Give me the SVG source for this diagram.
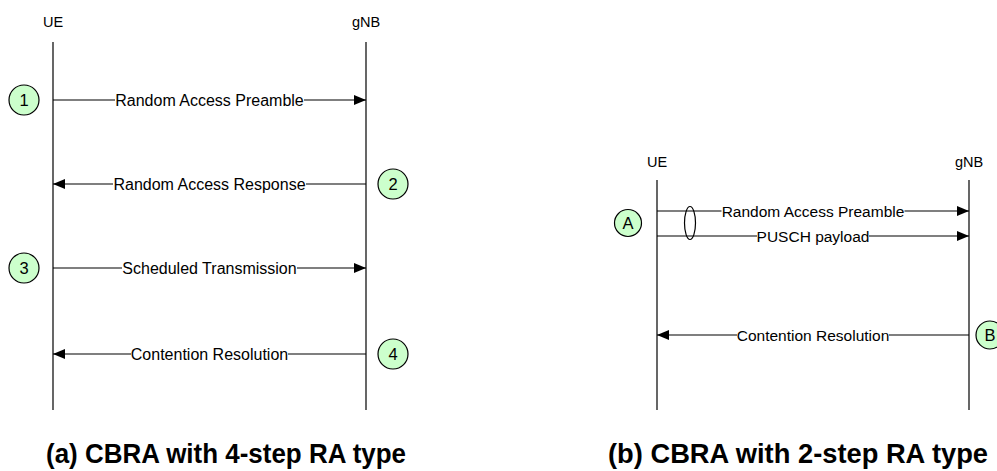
<svg xmlns="http://www.w3.org/2000/svg" width="997" height="471" viewBox="0 0 997 471">
<style>
  .life { stroke: #000; stroke-width: 1.2; fill: none; }
  .msg { stroke: #000; stroke-width: 1.2; fill: none; marker-end: url(#arr); }
  .hdr { font-family: "Liberation Sans", Arial, sans-serif; font-size: 14.5px; fill: #000; text-anchor: middle; }
  .lbl { font-family: "Liberation Sans", Arial, sans-serif; font-size: 16px; fill: #000; text-anchor: middle; }
  .lblr { font-family: "Liberation Sans", Arial, sans-serif; font-size: 15.5px; fill: #000; text-anchor: middle; }
  .step { fill: #ccffcc; stroke: #000; stroke-width: 1.2; }
  .stxt { font-family: "Liberation Sans", Arial, sans-serif; font-size: 16.5px; fill: #000; text-anchor: middle; }
  .cap { font-family: "Liberation Sans", Arial, sans-serif; font-size: 28px; font-weight: bold; fill: #000; }
  .bg { fill: #fff; }
</style>
<defs>
  <marker id="arr" markerUnits="userSpaceOnUse" markerWidth="12" markerHeight="10" refX="12" refY="5" orient="auto">
    <path d="M0,0 L12,5 L0,10 Z" fill="#000"/>
  </marker>
</defs>
<rect width="997" height="471" fill="#fff"/>

<g id="ue-a">
  <text class="hdr" x="53" y="27">UE</text>
  <line class="life" x1="53" y1="42" x2="53" y2="410"/>
</g>
<g id="gnb-a">
  <text class="hdr" x="366" y="27">gNB</text>
  <line class="life" x1="366" y1="42" x2="366" y2="410"/>
</g>
<g id="ue-b">
  <text class="hdr" x="657" y="167">UE</text>
  <line class="life" x1="657" y1="180" x2="657" y2="410"/>
</g>
<g id="gnb-b">
  <text class="hdr" x="969" y="167">gNB</text>
  <line class="life" x1="969" y1="180" x2="969" y2="410"/>
</g>

<g id="connectors">
  <line class="msg" x1="53" y1="100" x2="366" y2="100"/>
  <rect class="bg" x="115" y="97" width="189" height="6"/>
  <text class="lbl" x="209.5" y="105.5">Random Access Preamble</text>

  <line class="msg" x1="366" y1="184" x2="53" y2="184"/>
  <rect class="bg" x="113" y="181" width="193" height="6"/>
  <text class="lbl" x="209.5" y="189.5">Random Access Response</text>

  <line class="msg" x1="53" y1="268" x2="366" y2="268"/>
  <rect class="bg" x="122" y="265" width="175" height="6"/>
  <text class="lbl" x="209.5" y="273.5">Scheduled Transmission</text>

  <line class="msg" x1="366" y1="354" x2="53" y2="354"/>
  <rect class="bg" x="131" y="351" width="157" height="6"/>
  <text class="lbl" x="209.5" y="359.5">Contention Resolution</text>

  <line class="msg" x1="657" y1="211" x2="969" y2="211"/>
  <rect class="bg" x="721.5" y="208" width="183" height="6"/>
  <text class="lblr" x="813" y="216.5">Random Access Preamble</text>

  <line class="msg" x1="657" y1="236" x2="969" y2="236"/>
  <rect class="bg" x="757" y="233" width="112" height="6"/>
  <text class="lblr" x="813" y="241.5">PUSCH payload</text>

  <ellipse cx="690" cy="223" rx="5.5" ry="16.5" fill="none" stroke="#000" stroke-width="1.2"/>

  <line class="msg" x1="969" y1="335" x2="657" y2="335"/>
  <rect class="bg" x="737" y="332" width="152" height="6"/>
  <text class="lblr" x="813" y="340.5">Contention Resolution</text>
</g>

<g id="step1"><circle class="step" cx="24" cy="100" r="15"/><text class="stxt" x="24" y="106">1</text></g>
<g id="step2"><circle class="step" cx="393" cy="184" r="15"/><text class="stxt" x="393" y="190">2</text></g>
<g id="step3"><circle class="step" cx="24" cy="268" r="15"/><text class="stxt" x="24" y="274">3</text></g>
<g id="step4"><circle class="step" cx="393" cy="354" r="15"/><text class="stxt" x="393" y="360">4</text></g>
<g id="stepA"><circle class="step" cx="628" cy="223" r="13.5"/><text class="stxt" x="628" y="229">A</text></g>
<g id="stepB"><circle class="step" cx="990" cy="335" r="14"/><text class="stxt" x="990" y="341">B</text></g>

<g id="captions">
  <text class="cap" x="46" y="463" textLength="360" lengthAdjust="spacingAndGlyphs">(a) CBRA with 4-step RA type</text>
  <text class="cap" x="608" y="463" textLength="380" lengthAdjust="spacingAndGlyphs">(b) CBRA with 2-step RA type</text>
</g>
</svg>
